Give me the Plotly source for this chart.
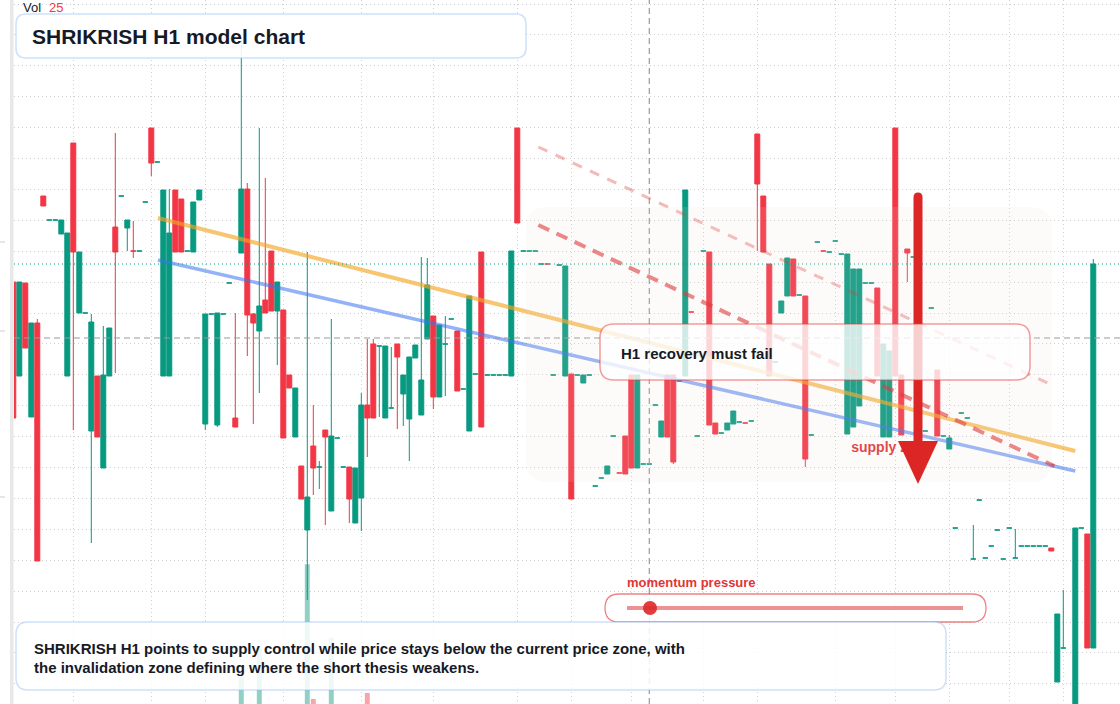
import plotly.graph_objects as go

# hourly bars, one slot per bar (None = no bar in that slot)
open_ = [
    309, 262, 308.5, 241.5, 288.5, 352, 340, 340, 333, 262,
    378.5, 293.5, 293.5, 234.5, 262, 216, 262, 336.5, 352, 336,
    324.5, 324.5, 349, 386, 369, 262, 262, 355, 350.5, 324.5,
    324, 350, 238, 293, 237.5, 293, 308.5, 241, 323.5, 355.5,
    293, 284.5, 300, 324.5, 294.5, 295, 262.5, 231.5, 217, 185,
    227, 216.5, 235, 194.5, 231, 216.5, 216.5, 188.5, 201, 247.5,
    278, 277, 241, 246, 278, 253, 240.5, 271, 242.5, 280.5,
    292, 251.5, 278, 290.5, 284.5, 255.5, 234.5, 263, 324, 262.5,
    262.5, 262.5, 262.5, 262, 386, 324.5, 324.5, 324.5, 318, 318,
    262.5, 317.5, 262, 263, 262.5, 258.5, 262.5, 207, 211, 213,
    232, 213.5, 232, 262.5, 216, 218, 218, 247.5, 231.5, 262.5,
    262.5, 259.5, 262, 294, 232, 324.5, 324, 238.5, 233.5, 235,
    238, 239, 238.5, 239.5, 383, 352, 318, 269, 293.5, 302,
    320.5, 302.5, 302, 232.5, 329, 324.5, 324, 329.5, 323, 233,
    236.5, 247, 308.5, 308.5, 306, 231.5, 231.5, 386, 262.5, 325.5,
    321.5, None, 234.5, 296, 265, 232, 225.5, 186, 243.5, 241,
    170.5, 200, 171, 177, 185, 170.5, 186, 171, 177, 177,
    177, 177, 177, 176, 109, 126, None, 80, 186, 183,
    126]

high = [
    309, 309, 308.5, 288.5, 290.5, 352, 340, 340, 340, 333.5,
    378.5, 324, 293.5, 293, 262, 287, 286, 383.5, 352, 340,
    339.5, 324.5, 349, 386, 369, 355, 355.5, 355, 350.5, 324.5,
    349, 355, 293, 293, 293.5, 293, 308.5, 293.5, 430, 358.5,
    293.5, 386, 361, 324.5, 309, 295, 262.5, 256, 217, 324,
    247.5, 219.5, 235, 290.5, 231, 216.5, 216.5, 216, 253.5, 280.5,
    280.5, 277, 277, 276.5, 278, 262.5, 271.5, 277.5, 321.5, 321,
    292, 287.5, 292, 290.5, 284.5, 255.5, 302, 263, 324, 262.5,
    262.5, 262.5, 262.5, 324.5, 386, 324.5, 324.5, 324.5, 318, 318,
    262.5, 317.5, 317, 263, 262.5, 262.5, 262.5, 207, 211, 217,
    232, 213.5, 232, 262.5, 262.5, 218, 218, 247.5, 239.5, 262.5,
    262.5, 259.5, 355, 294, 232, 324.5, 324, 238.5, 233.5, 238.5,
    244.5, 239, 238.5, 239.5, 383, 352, 318, 269, 299.5, 321,
    320.5, 302.5, 302, 232.5, 329, 324.5, 324, 329.5, 323, 323,
    315.5, 315.5, 308.5, 308.5, 306, 278, 274.5, 386, 262.5, 325.5,
    321.5, None, 234.5, 296, 265, 232, 232.5, 186, 243.5, 241,
    187.5, 200, 171, 177, 185, 170.5, 186, 185.5, 177, 177,
    177, 177, 177, 176, 143, 155, None, 186, 186, 183,
    320.5]

low = [
    241, 262, 276, 241.5, 169.5, 347, 340, 340, 333, 262,
    235, 293.5, 293.5, 178.5, 231.5, 216, 262, 263.5, 352, 324.5,
    321, 324.5, 349, 362, 369, 262, 262, 324, 324, 324.5,
    324, 350, 235, 293, 236.5, 293, 308.5, 236.5, 323.5, 272,
    238, 253.5, 293.5, 294.5, 267.5, 231, 256, 231.5, 200.5, 150,
    202.5, 205.5, 187.5, 194.5, 231, 216.5, 188.5, 188.5, 184.5, 221.5,
    241, 241.5, 241, 246, 235.5, 237, 219.5, 271, 242.5, 280.5,
    245.5, 251.5, 252, 290.5, 254.5, 255.5, 234.5, 263, 236.5, 262.5,
    262.5, 262.5, 262.5, 262, 338.5, 324.5, 324.5, 324.5, 318, 318,
    262.5, 317.5, 262, 200.5, 262.5, 258.5, 262.5, 207, 211, 213,
    232, 213.5, 213, 216, 216, 218, 218, 247.5, 231.5, 231.5,
    218, 259.5, 262, 294, 232, 324.5, 237.5, 233, 233.5, 235,
    238, 239, 238.5, 239.5, 324.5, 324, 262, 269, 293.5, 302,
    302, 302.5, 216.5, 232.5, 329, 324.5, 324, 329.5, 323, 233,
    236.5, 247, 308.5, 308.5, 262, 231.5, 231.5, 262, 232.5, 309,
    321.5, None, 234.5, 296, 232, 232, 225.5, 186, 243.5, 241,
    170.5, 200, 171, 177, 185, 170.5, 186, 171, 177, 177,
    177, 177, 177, 174.5, 109, 126, None, 80, 186, 126,
    126]

close = [
    241, 309, 276, 288.5, 169.5, 347, 340, 340, 340, 333.5,
    324, 324, 293.5, 289, 231.5, 262.5, 286, 324, 352, 340,
    324.5, 324.5, 349, 368.5, 369, 355, 333.5, 324, 324, 324.5,
    349, 355, 293, 293, 293.5, 293, 308.5, 236.5, 355.5, 292.5,
    288.5, 297, 293.5, 294.5, 309, 231, 256, 256, 200.5, 201.5,
    216, 216.5, 231.5, 232, 231, 216.5, 200.5, 216, 247.5, 241,
    241, 277, 277, 246, 271.5, 262.5, 271.5, 277.5, 260, 307.5,
    251.5, 287.5, 278, 290.5, 254.5, 255.5, 302, 263, 236.5, 262.5,
    262.5, 262.5, 262.5, 324.5, 338.5, 324.5, 324.5, 324.5, 318, 318,
    262.5, 317.5, 317, 200.5, 262.5, 262.5, 262.5, 207, 211, 217,
    232, 213.5, 213, 216, 262.5, 218, 218, 247.5, 239.5, 231.5,
    219, 259.5, 355, 294, 232, 324.5, 237.5, 233, 233.5, 238.5,
    244.5, 239, 238.5, 239.5, 358, 324, 262, 269, 299.5, 321,
    302, 302.5, 220.5, 232.5, 329, 324.5, 324, 329.5, 323, 323,
    315.5, 315.5, 308.5, 308.5, 262, 278, 274.5, 262, 232.5, 323.5,
    321.5, None, 234.5, 296, 232, 232, 231, 186, 243.5, 241,
    170.5, 200, 171, 177, 185, 170.5, 186, 171, 177, 177,
    177, 177, 177, 174.5, 143, 126, None, 186, 186, 126,
    318]

red_dojis = [20, 89, 101, 113, 122, 135]  # flat bars printed red

vol_idx = [38, 41, 49, 50, 53, 59]
vol_val = [5.4, 10.9, 27.8, 1.0, 13.1, 2.2]

grid_prices = [448, 432.55, 417.1, 401.65, 386.2, 370.75, 355.3, 339.85, 324.4,
               308.95, 293.5, 278.05, 262.6, 247.15, 231.7, 216.25, 200.8,
               185.35, 169.9, 154.45, 139, 123.55, 108.1]
grid_bars = [10, 23, 32, 45, 58, 70, 84, 93, 103, 115, 124, 137, 147, 156, 166, 175]

last_price = 318
mid_level = 281
cursor_bar = 106

# drawn trend lines (bar index, price)
resist_x, resist_y = [24.1, 177], [341, 224.5]
support_x, support_y = [24.1, 177], [320, 214.5]
chan_x = [87.5, 173.5]
chan_lo_y = [337.5, 217]
chan_hi_y = [376.5, 257]

supply_label = (146.4, 226)

TEAL = "#089981"
RED = "#F23645"
FONT = "Liberation Sans, Arial, sans-serif"
INK = "#151a26"
GRID = "rgba(150,150,150,0.45)"

W, H, L = 1120, 704, 14


def px(x):
    return (x - L) / (W - L)


def py(y):
    return 1 - y / H


def rrect(x0, y0, x1, y1, r):
    rx, ry = r / (W - L), r / H
    a, b, c, d = px(x0), py(y0), px(x1), py(y1)
    return (f"M {a+rx},{b} L {c-rx},{b} Q {c},{b} {c},{b-ry} "
            f"L {c},{d+ry} Q {c},{d} {c-rx},{d} L {a+rx},{d} Q {a},{d} {a},{d+ry} "
            f"L {a},{b-ry} Q {a},{b} {a+rx},{b} Z")


# split bars by colour
up = {"x": [], "o": [], "h": [], "l": [], "c": []}
dn = {"x": [], "o": [], "h": [], "l": [], "c": []}
for i in range(len(open_)):
    if open_[i] is None:
        continue
    is_red = close[i] < open_[i] or (close[i] == open_[i] and i in red_dojis)
    d = dn if is_red else up
    d["x"].append(i)
    d["o"].append(open_[i])
    d["h"].append(high[i])
    d["l"].append(low[i])
    d["c"].append(close[i])

fig = go.Figure()
for d, col in ((up, TEAL), (dn, RED)):
    fig.add_trace(go.Candlestick(
        x=d["x"], open=d["o"], high=d["h"], low=d["l"], close=d["c"],
        increasing=dict(line=dict(color=col, width=1), fillcolor=col),
        decreasing=dict(line=dict(color=col, width=1), fillcolor=col),
        hoverinfo="skip", showlegend=False,
    ))

vol_col = ["rgba(242,54,69,0.45)" if close[i] < open_[i] else "rgba(8,153,129,0.45)"
           for i in vol_idx]
fig.add_trace(go.Bar(x=vol_idx, y=vol_val, yaxis="y2", width=0.83,
                     marker=dict(color=vol_col, line=dict(width=0)),
                     hoverinfo="skip", showlegend=False))

fig.add_trace(go.Scatter(x=resist_x, y=resist_y, mode="lines",
                         line=dict(color="rgba(245,166,35,0.65)", width=4),
                         hoverinfo="skip", showlegend=False))
fig.add_trace(go.Scatter(x=support_x, y=support_y, mode="lines",
                         line=dict(color="rgba(59,115,240,0.55)", width=3.5),
                         hoverinfo="skip", showlegend=False))
fig.add_trace(go.Scatter(x=chan_x, y=chan_hi_y, mode="lines",
                         line=dict(color="rgba(220,38,38,0.32)", width=3, dash="10px,9px"),
                         hoverinfo="skip", showlegend=False))
fig.add_trace(go.Scatter(x=chan_x, y=chan_lo_y, mode="lines",
                         line=dict(color="rgba(220,38,38,0.6)", width=4, dash="12px,8px"),
                         hoverinfo="skip", showlegend=False))
fig.add_trace(go.Scatter(x=[supply_label[0]], y=[supply_label[1]], mode="text",
                         text=["<b>supply zone</b>"], textposition="middle center",
                         textfont=dict(family=FONT, size=14, color="#e03535"),
                         hoverinfo="skip", showlegend=False))

shapes = [
    dict(type="line", xref="paper", yref="y", x0=0, x1=1, y0=last_price, y1=last_price,
         line=dict(color=TEAL, width=1, dash="1px,3px")),
    dict(type="line", xref="paper", yref="y", x0=0, x1=1, y0=mid_level, y1=mid_level,
         line=dict(color="#9a9a9a", width=1.2, dash="6px,4px")),
    dict(type="line", xref="x", yref="paper", x0=cursor_bar, x1=cursor_bar, y0=0, y1=1,
         line=dict(color="#9a9a9a", width=1.2, dash="6px,4px")),
    # zone behind the thesis
    dict(type="path", xref="paper", yref="paper", path=rrect(526, 207, 1052, 482, 22),
         fillcolor="rgba(240,225,210,0.12)", line=dict(width=0)),
    # big down arrow
    dict(type="path", xref="paper", yref="paper",
         path=(f"M {px(913.5)},{py(443)} L {px(913.5)},{py(197.5)} "
               f"Q {px(913.5)},{py(192.5)} {px(918)},{py(192.5)} "
               f"Q {px(922.5)},{py(192.5)} {px(922.5)},{py(197.5)} "
               f"L {px(922.5)},{py(443)} Z"),
         fillcolor="#dc2626", line=dict(width=0)),
    dict(type="path", xref="paper", yref="paper",
         path=f"M {px(898)},{py(441)} L {px(938)},{py(441)} L {px(918)},{py(484)} Z",
         fillcolor="#dc2626", line=dict(width=0)),
    # callout box
    dict(type="path", xref="paper", yref="paper", path=rrect(600, 324, 1030, 380, 14),
         fillcolor="rgba(255,255,255,0.78)", line=dict(color="rgba(229,62,62,0.5)", width=1.5)),
    # momentum pill
    dict(type="path", xref="paper", yref="paper", path=rrect(605, 594, 986, 622, 14),
         fillcolor="rgba(255,255,255,0.85)", line=dict(color="rgba(229,62,62,0.65)", width=1.3)),
    dict(type="line", xref="paper", yref="paper", x0=px(627), x1=px(963), y0=py(608), y1=py(608),
         line=dict(color="rgba(220,38,38,0.5)", width=4)),
    dict(type="circle", xref="paper", yref="paper", x0=px(643), x1=px(657), y0=py(615), y1=py(601),
         fillcolor="rgba(222,40,40,0.9)", line=dict(width=0)),
    # bottom note
    dict(type="path", xref="paper", yref="paper", path=rrect(16, 622, 946, 690, 12),
         fillcolor="rgba(255,255,255,0.85)", line=dict(color="rgba(147,187,245,0.45)", width=1.5)),
    # title box
    dict(type="path", xref="paper", yref="paper", path=rrect(16, 14, 526, 58, 10),
         fillcolor="rgba(255,255,255,0.88)", line=dict(color="rgba(147,187,245,0.45)", width=1.5)),
    # left border strip
    dict(type="rect", xref="paper", yref="paper", x0=px(10), x1=px(13.5), y0=0, y1=1,
         fillcolor="#e8e8e8", line=dict(width=0)),
]
for ty in (242, 331, 497):
    shapes.append(dict(type="line", xref="paper", yref="paper", x0=px(0), x1=px(5),
                       y0=py(ty), y1=py(ty), line=dict(color="#cfcfcf", width=1)))

annotations = [
    dict(x=px(21), y=py(8), text="Vol", font=dict(family=FONT, size=13, color=INK)),
    dict(x=px(47), y=py(8), text="25", font=dict(family=FONT, size=13, color=RED)),
    dict(x=px(30), y=py(36), text="<b>SHRIKRISH H1 model chart</b>",
         font=dict(family=FONT, size=21, color=INK)),
    dict(x=px(619), y=py(353), text="<b>H1 recovery must fail</b>",
         font=dict(family=FONT, size=15, color=INK)),
    dict(x=px(625), y=py(582), text="<b>momentum pressure</b>",
         font=dict(family=FONT, size=13, color="#e03535")),
    dict(x=px(32), y=py(648),
         text="<b>SHRIKRISH H1 points to supply control while price stays below the current price zone, with</b>",
         font=dict(family=FONT, size=15, color=INK)),
    dict(x=px(32), y=py(667),
         text="<b>the invalidation zone defining where the short thesis weakens.</b>",
         font=dict(family=FONT, size=15, color=INK)),
]
for a in annotations:
    a.update(xref="paper", yref="paper", xanchor="left", yanchor="middle", showarrow=False)

fig.update_layout(
    width=W, height=H,
    margin=dict(l=L, r=0, t=0, b=0),
    paper_bgcolor="white", plot_bgcolor="white",
    showlegend=False, hovermode=False,
    boxgap=0.08, boxgroupgap=0.1,
    xaxis=dict(range=[(L - 13.3) / 6, (W - 13.3) / 6], tickvals=grid_bars,
               showticklabels=False, showgrid=True, gridcolor=GRID,
               griddash="1px,3px", zeroline=False, showline=False,
               rangeslider=dict(visible=False), fixedrange=True),
    yaxis=dict(range=[98, 450], tickvals=grid_prices, showticklabels=False,
               showgrid=True, gridcolor=GRID, griddash="1px,3px",
               zeroline=False, showline=False, fixedrange=True),
    yaxis2=dict(overlaying="y", range=[0, 140], visible=False, fixedrange=True),
    shapes=shapes,
    annotations=annotations,
)

fig.write_html("out.html", config={"displayModeBar": False},
               post_script="document.body.style.margin='0';document.body.style.overflow='hidden';")
